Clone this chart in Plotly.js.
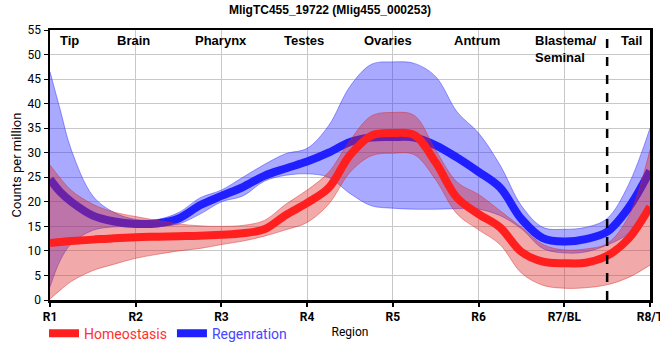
<!DOCTYPE html>
<html>
<head>
<meta charset="utf-8">
<script src="https://cdn.plot.ly/plotly-3.0.1.min.js"></script>
<style>html,body{margin:0;padding:0;background:#fff;}#chart{width:660px;height:360px;}</style>
</head>
<body>
<div id="chart"></div>
<script>
// Region positions (x) and tick labels
const xs = [1, 1.12, 1.25, 1.5, 1.75, 2, 2.25, 2.5, 2.75, 3, 3.25, 3.5, 3.75, 4, 4.25, 4.5, 4.75, 5, 5.25, 5.5, 5.75, 6, 6.25, 6.5, 6.75, 7, 7.25, 7.5, 7.75, 8];
const tickVals = [1, 2, 3, 4, 5, 6, 7, 8];
const tickLabels = ["R1", "R2", "R3", "R4", "R5", "R6", "R7/BL", "R8/T"];

// Homeostasis (red)
const homeoMean  = [11.6, 11.8, 12.0, 12.3, 12.6, 12.8, 12.9, 13.0, 13.1, 13.3, 13.6, 14.4, 17.3, 19.8, 22.8, 29.5, 33.5, 34.0, 33.6, 28.0, 20.8, 17.5, 14.8, 9.8, 7.8, 7.5, 7.6, 9.0, 12.5, 19.0];
const homeoUpper = [27.5, 24.8, 22.3, 19.5, 17.9, 17.0, 16.2, 15.5, 15.1, 15.0, 15.2, 16.2, 19.5, 22.4, 26.0, 32.5, 37.5, 38.2, 37.6, 30.5, 24.0, 21.5, 18.2, 14.8, 11.3, 10.2, 10.4, 11.5, 17.0, 30.6];
const homeoLower = [0.2, 2.0, 3.8, 6.0, 7.3, 8.5, 9.3, 10.0, 10.5, 11.3, 12.0, 13.0, 14.3, 15.8, 19.5, 26.0, 29.4, 29.9, 29.6, 24.5, 17.5, 14.3, 11.3, 5.5, 3.0, 2.4, 2.5, 3.1, 4.6, 7.1];

// Regeneration (blue)
const regenMean  = [24.6, 22.0, 20.0, 17.2, 16.0, 15.5, 15.6, 16.6, 19.3, 21.2, 23.0, 25.3, 26.8, 28.2, 30.0, 32.2, 33.1, 33.2, 33.1, 31.5, 29.0, 26.1, 22.9, 16.5, 12.6, 11.9, 12.4, 13.9, 18.8, 26.3];
const regenUpper = [46.5, 38.7, 30.5, 21.2, 17.8, 16.4, 16.4, 17.8, 20.8, 22.4, 25.0, 27.6, 29.8, 30.9, 35.5, 43.5, 48.0, 48.5, 48.2, 45.5, 38.3, 34.0, 27.5, 19.2, 14.8, 14.4, 14.8, 16.6, 23.5, 35.0];
const regenLower = [2.7, 8.1, 11.5, 14.2, 14.9, 14.9, 15.0, 15.5, 17.5, 20.0, 21.2, 24.2, 25.4, 25.7, 25.0, 21.7, 19.2, 18.7, 18.5, 18.5, 18.6, 18.5, 17.2, 14.5, 10.5, 9.6, 9.8, 11.2, 13.5, 17.7];

// Region labels along the top
const regionNames = ["Tip", "Brain", "Pharynx", "Testes", "Ovaries", "Antrum", "Blastema/<br>Seminal", "Tail"];
const regionPos   = [1.23, 1.97, 2.99, 3.96, 4.94, 5.98, 6.64, 7.78];
const dividerX = 7.5;

const blueBand = 'rgba(40,40,255,0.4)';
const redBand = 'rgba(220,40,40,0.4)';

const traces = [
  {x: xs, y: regenLower, mode: 'lines', line: {shape: 'spline', width: 1, color: 'rgba(40,40,255,0.45)'}, showlegend: false, hoverinfo: 'skip'},
  {x: xs, y: regenUpper, mode: 'lines', fill: 'tonexty', fillcolor: blueBand, line: {shape: 'spline', width: 1, color: 'rgba(40,40,255,0.45)'}, showlegend: false, hoverinfo: 'skip'},
  {x: xs, y: regenMean, mode: 'lines', name: '<span style="color:#4646ff">Regenration</span>', line: {shape: 'spline', width: 8, color: '#1f1fff'}, legendrank: 2},
  {x: xs, y: homeoLower, mode: 'lines', line: {shape: 'spline', width: 1, color: 'rgba(220,40,40,0.45)'}, showlegend: false, hoverinfo: 'skip'},
  {x: xs, y: homeoUpper, mode: 'lines', fill: 'tonexty', fillcolor: redBand, line: {shape: 'spline', width: 1, color: 'rgba(220,40,40,0.45)'}, showlegend: false, hoverinfo: 'skip'},
  {x: xs, y: homeoMean, mode: 'lines', name: '<span style="color:#ff3030">Homeostasis</span>', line: {shape: 'spline', width: 8, color: '#ff1f1f'}, legendrank: 1}
];

const annotations = regionNames.map((t, i) => ({
  x: regionPos[i], y: 54.7, xref: 'x', yref: 'y',
  text: '<b>' + t + '</b>', showarrow: false,
  xanchor: i === 6 ? 'left' : 'center', yanchor: 'top', align: 'left',
  font: {family: 'Liberation Sans, Arial, sans-serif', size: 13, color: '#000'}
}));

const layout = {
  width: 660, height: 360,
  margin: {l: 50, r: 10, t: 30, b: 60},
  paper_bgcolor: '#fff', plot_bgcolor: '#fff',
  title: {text: '<b>MligTC455_19722 (Mlig455_000253)</b>', x: 0.5, xanchor: 'center', y: 0.973, yanchor: 'middle', yref: 'container',
          font: {family: 'Liberation Sans, Arial, sans-serif', size: 12, color: '#000'}},
  xaxis: {
    range: [1, 8], tickvals: tickVals, ticktext: tickLabels,
    showgrid: true, gridcolor: '#c8c8c8', gridwidth: 1,
    showline: true, linecolor: '#000', linewidth: 2.5, mirror: true,
    ticks: 'outside', ticklen: 4, tickwidth: 2, tickcolor: '#000',
    ticklabeloverflow: 'allow',
    tickfont: {family: 'Roboto, sans-serif', size: 12, color: '#000', weight: 'bold'},
    zeroline: false,
    title: {text: 'Region', standoff: 5, font: {family: 'Roboto, sans-serif', size: 12, color: '#000'}}
  },
  yaxis: {
    range: [0, 55], dtick: 5, tick0: 0,
    showgrid: true, gridcolor: '#c8c8c8', gridwidth: 1,
    showline: true, linecolor: '#000', linewidth: 2.5, mirror: true,
    ticks: 'outside', ticklen: 4, tickwidth: 1, tickcolor: '#000',
    tickfont: {family: 'Roboto, sans-serif', size: 12, color: '#000'},
    zeroline: false,
    title: {text: 'Counts per million', standoff: 3, font: {family: 'Roboto, sans-serif', size: 13, color: '#000'}}
  },
  legend: {orientation: 'h', x: -0.01, xanchor: 'left', y: -0.125, yanchor: 'middle',
           font: {family: 'Roboto, sans-serif', size: 14}, bgcolor: 'rgba(0,0,0,0)', traceorder: 'normal'},
  shapes: [{type: 'line', xref: 'x', yref: 'paper', x0: dividerX, x1: dividerX, y0: 0, y1: 1,
            line: {color: '#000', width: 2.5, dash: 'dash'}}],
  annotations: annotations,
  showlegend: true
};

Plotly.newPlot('chart', traces, layout, {displayModeBar: false, staticPlot: true});
</script>
</body>
</html>
